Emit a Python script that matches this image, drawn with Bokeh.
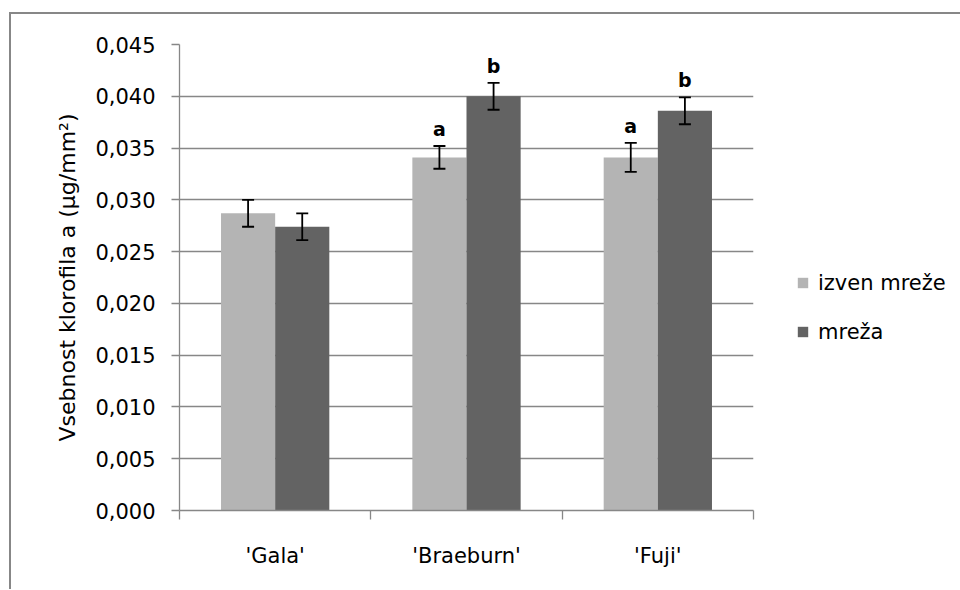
from bokeh.plotting import figure
from bokeh.models import (ColumnDataSource, Range1d, FixedTicker, CustomJSTickFormatter,
                          Whisker, TeeHead, Legend, LegendItem, LabelSet)
from bokeh.core.properties import value
from bokeh.embed import file_html
from bokeh.resources import INLINE

# ---- data ----
cultivars = ["'Gala'", "'Braeburn'", "'Fuji'"]
series_names = ["izven mreže", "mreža"]
izven = [0.0287, 0.0341, 0.0341]
izven_err = [0.0013, 0.0011, 0.0014]
mreza = [0.0274, 0.0400, 0.0386]
mreza_err = [0.0013, 0.0013, 0.0013]
izven_letters = ["", "a", "a"]
mreza_letters = ["", "b", "b"]
y_ticks = [0.000, 0.005, 0.010, 0.015, 0.020, 0.025, 0.030, 0.035, 0.040, 0.045]
y_title = "Vsebnost klorofila a (µg/mm²)"

FONT = "DejaVu Sans"
GRAY = "#878787"
LIGHT = "#B4B4B4"
DARK = "#636363"
BAR_W = 0.283

def make_src(vals, errs, letters, offset):
    xs = [i + 0.5 + offset for i in range(len(vals))]
    return ColumnDataSource(dict(
        x=xs, top=vals,
        upper=[v + e for v, e in zip(vals, errs)],
        lower=[v - e for v, e in zip(vals, errs)],
        letter=letters,
    ))

src_i = make_src(izven, izven_err, izven_letters, -BAR_W / 2)
src_m = make_src(mreza, mreza_err, mreza_letters, BAR_W / 2)

p = figure(frame_width=574, frame_height=466, output_backend="svg", toolbar_location=None,
           x_range=Range1d(0, len(cultivars)), y_range=Range1d(y_ticks[0], y_ticks[-1]),
           min_border_left=168, min_border_right=207, min_border_top=30, min_border_bottom=79)
p.margin = (12, 0, 0, 9)
p.styles = {"border-left": "2px solid " + GRAY, "border-top": "2px solid " + GRAY}
p.outline_line_color = None
p.background_fill_color = "white"
p.border_fill_color = "white"

r1 = p.vbar(x="x", top="top", bottom=0, width=BAR_W, source=src_i,
            fill_color=LIGHT, line_color=None)
r2 = p.vbar(x="x", top="top", bottom=0, width=BAR_W, source=src_m,
            fill_color=DARK, line_color=None)

for src in (src_i, src_m):
    w = Whisker(base="x", upper="upper", lower="lower", source=src, level="overlay",
                line_color="black", line_width=1.8,
                upper_head=TeeHead(size=12, line_color="black", line_width=1.8),
                lower_head=TeeHead(size=12, line_color="black", line_width=1.8))
    p.add_layout(w)
    lbl = LabelSet(x="x", y="upper", text="letter", source=src,
                   text_align="center", text_baseline="alphabetic", y_offset=10,
                   text_font=value(FONT), text_font_style="bold",
                   text_font_size="19px", text_color="black")
    p.add_layout(lbl)

# grid
p.xgrid.visible = False
p.ygrid.grid_line_color = GRAY
p.ygrid.grid_line_width = 1.3
p.ygrid.ticker = FixedTicker(ticks=y_ticks)

# y axis
ya = p.yaxis[0]
ya.ticker = FixedTicker(ticks=y_ticks)
ya.formatter = CustomJSTickFormatter(code="return tick.toFixed(3).replace('.', ',');")
ya.axis_line_color = GRAY
ya.axis_line_width = 1.3
ya.major_tick_line_color = GRAY
ya.major_tick_line_width = 1.3
ya.major_tick_in = 0
ya.major_tick_out = 8
ya.minor_tick_line_color = None
ya.major_label_text_font = FONT
ya.major_label_text_font_size = "21px"
ya.major_label_text_color = "black"
ya.major_label_standoff = 16
ya.axis_label = y_title
ya.axis_label_text_font = FONT
ya.axis_label_text_font_size = "22px"
ya.axis_label_text_font_style = "normal"
ya.axis_label_text_color = "black"
ya.axis_label_standoff = 12

# x axis
xa = p.xaxis[0]
xa.ticker = FixedTicker(ticks=[i + 0.5 for i in range(len(cultivars))],
                        minor_ticks=list(range(len(cultivars) + 1)))
xa.formatter = CustomJSTickFormatter(args=dict(cats=cultivars),
                                     code="return cats[Math.floor(tick)];")
xa.axis_line_color = GRAY
xa.axis_line_width = 1.3
xa.major_tick_line_color = None
xa.major_tick_in = 0
xa.major_tick_out = 0
xa.minor_tick_line_color = GRAY
xa.minor_tick_line_width = 1.3
xa.minor_tick_in = 0
xa.minor_tick_out = 9
xa.major_label_text_font = FONT
xa.major_label_text_font_size = "21px"
xa.major_label_text_color = "black"
xa.major_label_standoff = 24

legend = Legend(items=[LegendItem(label=series_names[0], renderers=[r1]),
                       LegendItem(label=series_names[1], renderers=[r2])],
                location=(43, 166), orientation="vertical",
                glyph_width=13, glyph_height=13, label_height=25, spacing=24,
                label_standoff=9, padding=0, margin=0,
                label_text_font=FONT, label_text_font_size="21px",
                label_text_color="black",
                border_line_color=None, background_fill_alpha=0)
p.add_layout(legend, "right")

open("out.html", "w").write(file_html(p, INLINE))
